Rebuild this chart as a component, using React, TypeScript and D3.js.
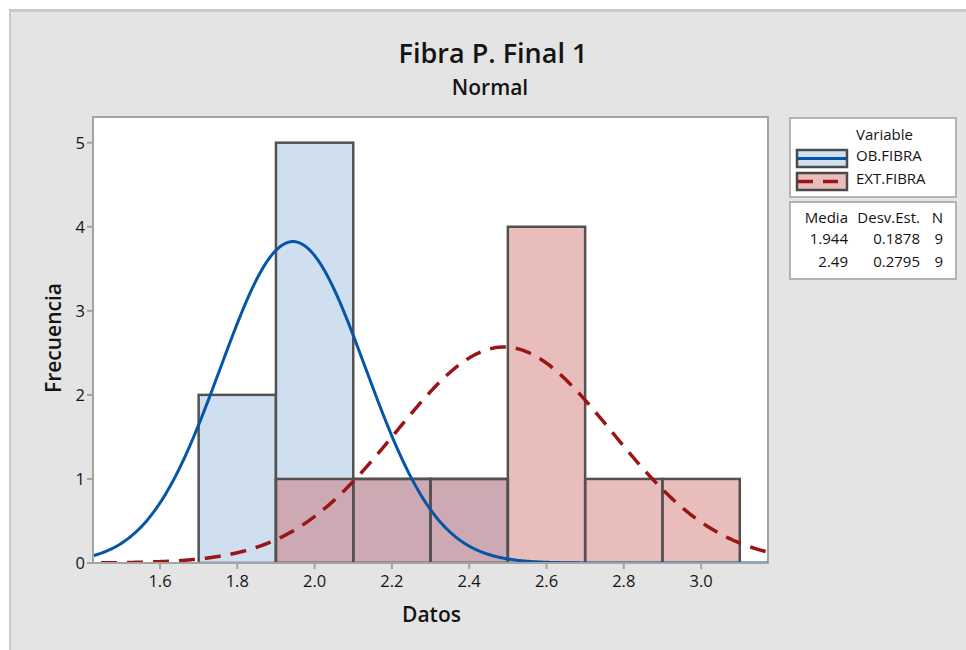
import React from "react";
import * as d3 from "d3";

// ---- data ----
const OB_BIN_STARTS = [1.7, 1.9, 2.1, 2.3];
const OB_COUNTS = [2, 5, 1, 1];
const EXT_BIN_STARTS = [1.9, 2.1, 2.3, 2.5, 2.7, 2.9];
const EXT_COUNTS = [1, 1, 1, 4, 1, 1];
const BIN_WIDTH = 0.2;
const SERIES = ["OB.FIBRA", "EXT.FIBRA"];
const MEANS = [1.944, 2.49];
const SDS = [0.1878, 0.2795];
const NS = [9, 9];
const MEAN_LABELS = ["1.944", "2.49"];
const SD_LABELS = ["0.1878", "0.2795"];
const X_TICKS = [1.6, 1.8, 2.0, 2.2, 2.4, 2.6, 2.8, 3.0];
const Y_TICKS = [0, 1, 2, 3, 4, 5];

const FONT = "'Open Sans', 'Noto Sans', sans-serif";
const TXT = "#141414";

export default function App() {
  const L = 93, R = 768, T = 117, B = 563;
  const x = d3.scaleLinear().domain([1.6, 3.0]).range([160, 160 + 1.4 * 386.5]);
  x.domain([x.invert(L), x.invert(R)]).range([L, R]);
  const y = d3.scaleLinear().domain([0, 5]).range([B, 142.7]);
  y.domain([0, y.invert(T)]).range([B, T]);

  const blueFill = "#cfdfef";
  const redFill = "rgb(199,79,79)";
  const redOp = 0.375;
  const barStroke = "#525252";
  const blueLine = "#0656a8";
  const redLine = "#9a1616";

  const [d0, d1] = x.domain();
  const xs = d3.range(0, 401).map((i) => d0 + ((d1 - d0) * i) / 400);
  const curve = (k: number) =>
    d3
      .line<number>()
      .x((v) => x(v))
      .y((v) => {
        const z = (v - MEANS[k]) / SDS[k];
        const dens = Math.exp(-0.5 * z * z) / (SDS[k] * Math.sqrt(2 * Math.PI));
        return y(NS[k] * BIN_WIDTH * dens);
      })(xs) as string;

  const legFS = 15;

  return (
    <svg
      width={966}
      height={650}
      style={{ position: "absolute", left: 0, top: 0 }}
      fontFamily={FONT}
    >
      <defs>
        <clipPath id="plotclip">
          <rect x={L} y={T} width={R - L} height={B - T} />
        </clipPath>
      </defs>
      <rect x={0} y={0} width={966} height={650} fill="#ffffff" />
      <rect x={9} y={9} width={970} height={650} fill="#c9c9c9" />
      <rect x={11} y={12} width={970} height={650} fill="#e4e4e4" />

      {/* title */}
      <text x={493} y={63} textAnchor="middle" fontSize={27} fontWeight={600} fill={TXT}>
        Fibra P. Final 1
      </text>
      <text x={490} y={95} textAnchor="middle" fontSize={21} fontWeight={600} fill={TXT}>
        Normal
      </text>

      {/* plot area */}
      <rect x={L} y={T} width={R - L} height={B - T} fill="#ffffff" stroke="#a3a3a3" strokeWidth={2} />

      <g clipPath="url(#plotclip)">
        {OB_BIN_STARTS.map((s, i) => (
          <rect
            key={"ob" + i}
            x={x(s)}
            y={y(OB_COUNTS[i])}
            width={x(s + BIN_WIDTH) - x(s)}
            height={y(0) - y(OB_COUNTS[i])}
            fill={blueFill}
            stroke={barStroke}
            strokeWidth={2.5}
          />
        ))}
        {EXT_BIN_STARTS.map((s, i) => (
          <rect
            key={"ext" + i}
            x={x(s)}
            y={y(EXT_COUNTS[i])}
            width={x(s + BIN_WIDTH) - x(s)}
            height={y(0) - y(EXT_COUNTS[i])}
            fill={redFill}
            fillOpacity={redOp}
            stroke={barStroke}
            strokeWidth={2.5}
          />
        ))}
        <path d={curve(0)} fill="none" stroke={blueLine} strokeWidth={3} />
        <path d={curve(1)} fill="none" stroke={redLine} strokeWidth={3.5} strokeDasharray="16 10" strokeDashoffset={-8} />
      </g>

      {/* axes */}
      <line x1={L} x2={R} y1={B} y2={B} stroke="#a3a3a3" strokeWidth={2} />
      <line x1={L} x2={L} y1={T} y2={B} stroke="#a3a3a3" strokeWidth={2} />
      {X_TICKS.map((t) => (
        <g key={"xt" + t}>
          <line x1={x(t)} x2={x(t)} y1={B} y2={B + 6} stroke="#a3a3a3" strokeWidth={2} />
          <text x={x(t)} y={587} textAnchor="middle" fontSize={16.5} fill={TXT}>
            {t.toFixed(1)}
          </text>
        </g>
      ))}
      {Y_TICKS.map((t) => (
        <g key={"yt" + t}>
          <line x1={L - 6} x2={L} y1={y(t)} y2={y(t)} stroke="#a3a3a3" strokeWidth={2} />
          <text x={85} y={y(t) + 6} textAnchor="end" fontSize={16.5} fill={TXT}>
            {t}
          </text>
        </g>
      ))}
      <text x={431.5} y={622} textAnchor="middle" fontSize={21} fontWeight={600} fill={TXT}>
        Datos
      </text>
      <text
        transform="translate(61,338) rotate(-90)"
        textAnchor="middle"
        fontSize={21}
        fontWeight={600}
        fill={TXT}
      >
        Frecuencia
      </text>

      {/* legend */}
      <rect x={790} y={118} width={166} height={79} fill="#ffffff" stroke="#b3b3b3" strokeWidth={2} />
      <text x={856} y={140} fontSize={legFS} fill={TXT}>
        Variable
      </text>
      <rect x={797} y={150} width={50} height={17} fill={blueFill} stroke="#4a4a4a" strokeWidth={2.5} />
      <line x1={798} x2={846} y1={158.5} y2={158.5} stroke={blueLine} strokeWidth={3} />
      <text x={856} y={161} fontSize={legFS} fill={TXT}>
        {SERIES[0]}
      </text>
      <rect x={797} y={173} width={50} height={17} fill="rgb(234,189,189)" stroke="#4a4a4a" strokeWidth={2.5} />
      <line x1={798} x2={846} y1={181.5} y2={181.5} stroke={redLine} strokeWidth={3.5} strokeDasharray="15 10" />
      <text x={856} y={184} fontSize={legFS} fill={TXT}>
        {SERIES[1]}
      </text>

      <rect x={790} y={202} width={166} height={77} fill="#ffffff" stroke="#b3b3b3" strokeWidth={2} />
      <text x={848} y={223} textAnchor="end" fontSize={legFS} fill={TXT}>Media</text>
      <text x={920} y={223} textAnchor="end" fontSize={legFS} fill={TXT}>Desv.Est.</text>
      <text x={943} y={223} textAnchor="end" fontSize={legFS} fill={TXT}>N</text>
      {SERIES.map((s, i) => (
        <g key={"row" + s}>
          <text x={848} y={244 + i * 23} textAnchor="end" fontSize={legFS} fill={TXT}>{MEAN_LABELS[i]}</text>
          <text x={920} y={244 + i * 23} textAnchor="end" fontSize={legFS} fill={TXT}>{SD_LABELS[i]}</text>
          <text x={943} y={244 + i * 23} textAnchor="end" fontSize={legFS} fill={TXT}>{NS[i]}</text>
        </g>
      ))}
    </svg>
  );
}
